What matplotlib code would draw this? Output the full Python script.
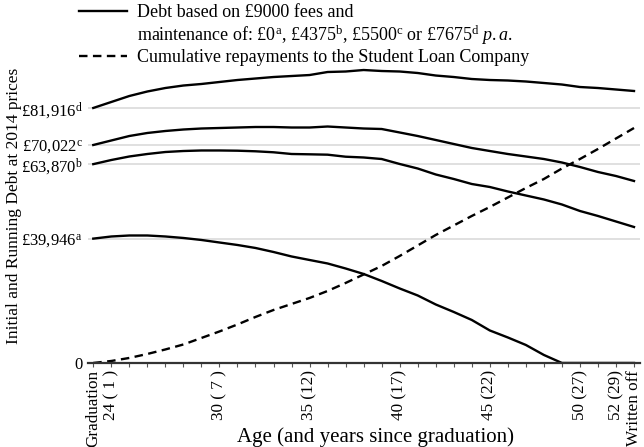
import numpy as np
import matplotlib
matplotlib.use("Agg")
import matplotlib.pyplot as plt
from matplotlib.lines import Line2D

# ── Data (£ at 2014 prices) ─────────────────────────────────────────────────
years = list(range(31))   # years since graduation, 30 = written off

debt_d = [81916, 83840, 85760, 87210, 88330, 89130, 89620, 90260, 90900, 91380,
          91860, 92180, 92500, 93470, 93630, 94110, 93790, 93630, 93150, 92340,
          91860, 91220, 90900, 90740, 90420, 89940, 89450, 88650, 88330, 87850,
          87370]
debt_c = [70022, 71470, 72910, 73880, 74520, 75000, 75320, 75480, 75640, 75800,
          75800, 75640, 75640, 75960, 75640, 75320, 75160, 74040, 72910, 71630,
          70340, 69060, 68090, 67130, 66330, 65520, 64400, 62960, 61350, 60060,
          58460]
debt_b = [63870, 65200, 66330, 67130, 67770, 68090, 68260, 68260, 68190, 68000,
          67680, 67130, 67030, 66910, 66260, 66010, 65520, 63920, 62470, 60550,
          59100, 57490, 56530, 55090, 53800, 52520, 50910, 48820, 47220, 45450,
          43680]
debt_a = [39946, 40630, 40950, 40950, 40630, 40150, 39510, 38700, 37900, 36940,
          35650, 34210, 33080, 31960, 30350, 28590, 26340, 23930, 21680, 18790,
          16380, 13810, 10440, 8190, 5780, 2570, 0, 0, 0, 0,
          0]
repaid = [0, 640, 1610, 2890, 4340, 5940, 8030, 10120, 12370, 14780,
          17020, 18950, 20880, 23130, 25700, 28430, 31160, 34370, 37740, 41110,
          44170, 47220, 50110, 53160, 56210, 59100, 62470, 65520, 68740, 72110,
          75480]

ytick_vals = [0, 39946, 63870, 70022, 81916]
ytick_labels = ["0",
                r"£39,946$^{\rm a}$",
                r"£63,870$^{\rm b}$",
                r"£70,022$^{\rm c}$",
                r"£81,916$^{\rm d}$"]
xtick_labels = {0: "Graduation", 1: "24 ( 1 )", 7: "30 ( 7 )", 12: "35 (12)",
                17: "40 (17)", 22: "45 (22)", 27: "50 (27)", 29: "52 (29)",
                30: "Written off"}

# ── Style ───────────────────────────────────────────────────────────────────
plt.rcParams["font.family"] = ["Liberation Serif", "DejaVu Serif"]
plt.rcParams["mathtext.fontset"] = "custom"
plt.rcParams["mathtext.rm"] = "Liberation Serif"
plt.rcParams["mathtext.it"] = "Liberation Serif:italic"
plt.rcParams["font.size"] = 12

fig = plt.figure(figsize=(6.44, 4.47), dpi=100)
ax = fig.add_axes([0.137, 0.188, 0.857, 0.6755])

solid_kw = dict(color="black", lw=1.7, solid_joinstyle="round")
ln_debt, = ax.plot(years, debt_d, **solid_kw)
ax.plot(years, debt_c, **solid_kw)
ax.plot(years, debt_b, **solid_kw)
ax.plot(years, debt_a, **solid_kw)
ln_rep, = ax.plot(years, repaid, color="black", lw=1.7, dashes=(3.6, 2.3))

ax.set_xlim(-0.28, 30.34)
ax.set_ylim(0, 97000)

# axes / grid
for s in ["top", "right", "left"]:
    ax.spines[s].set_visible(False)
ax.spines["bottom"].set_color("#333333")
ax.spines["bottom"].set_linewidth(1.6)
ax.set_axisbelow(True)
ax.yaxis.grid(True, color="#dddddd", lw=1.3)

ax.set_yticks(ytick_vals)
ax.set_yticklabels(ytick_labels, fontsize=12)
ax.tick_params(axis="y", length=0, pad=4)

ax.set_xticks(years)
ax.set_xticklabels([xtick_labels.get(y, "") for y in years],
                   rotation=90, fontsize=12.3)
ax.tick_params(axis="x", length=3, width=0.8, color="#555555", pad=2)

ax.set_xlabel("Age (and years since graduation)", fontsize=15)
ax.xaxis.set_label_coords(0.52, -0.245)
ax.xaxis.label.set_va("center")
ax.set_ylabel("Initial and Running Debt at 2014 prices", fontsize=12.5)
ax.yaxis.set_label_coords(-0.12, 0.52)

# legend above the plot
blank = Line2D([], [], color="none")
leg = ax.legend([ln_debt, blank, ln_rep],
                ["Debt based on £9000 fees and",
                 r"maintenance of: £0$^{\rm a}$, £4375$^{\rm b}$, £5500$^{\rm c}$"
                 r" or £7675$^{\rm d}$ $\mathit{p.a.}$",
                 "Cumulative repayments to the Student Loan Company"],
                loc="upper left", bbox_to_anchor=(0.122, 0.99),
                bbox_transform=fig.transFigure, frameon=False,
                handlelength=2.7, handletextpad=0.55, labelspacing=0.12,
                borderaxespad=0, borderpad=0, fontsize=13)

fig.savefig("out.png", dpi=100)
